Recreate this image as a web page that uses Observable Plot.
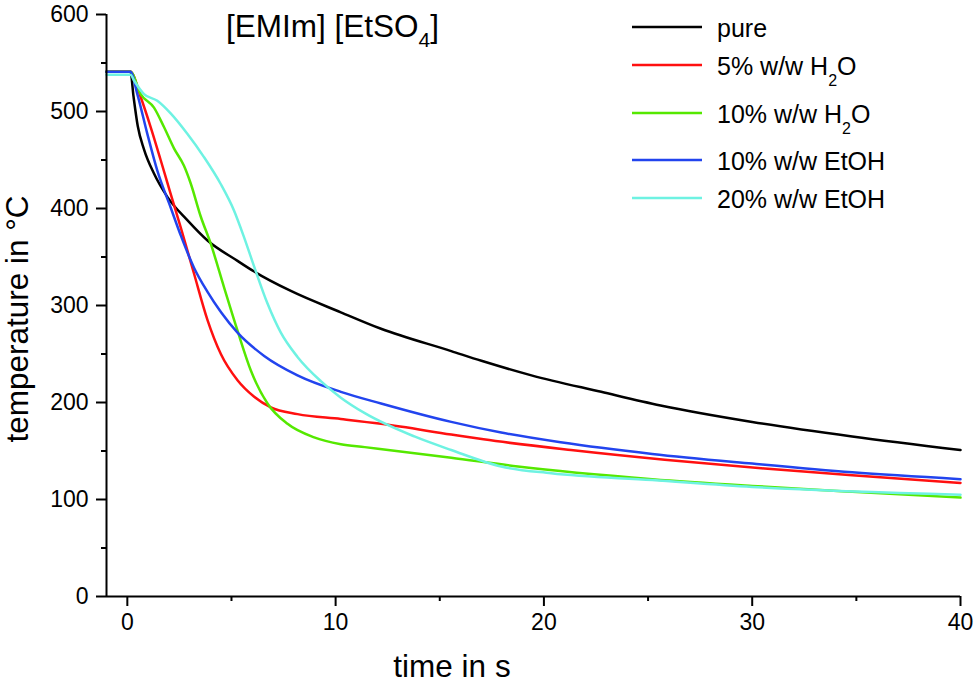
<!DOCTYPE html>
<html><head><meta charset="utf-8">
<script src="https://cdn.jsdelivr.net/npm/d3@7"></script>
<script src="https://cdn.jsdelivr.net/npm/@observablehq/plot@0.6"></script>
<style>body{margin:0;background:#fff}</style>
</head><body><div id="chart"></div>
<script>
const FONT = "'Liberation Sans', Arial, Helvetica, sans-serif";

// ticks
const xMajorTicks = [0, 10, 20, 30, 40];
const xMinorTicks = [5, 15, 25, 35];
const yMajorTicks = [0, 100, 200, 300, 400, 500, 600];
const yMinorTicks = [50, 150, 250, 350, 450, 550];

// series data (time in s, temperature in °C)
const pureTime = [-1, 0.15, 0.3, 0.5, 0.8, 1.28, 1.92, 2.88, 3.85, 5.29, 6.09, 7.85, 10.25, 12.18, 15.55, 17.0, 19.4, 22.75, 25.6, 30.0, 34.8, 40];
const pureTemp = [541, 541, 515, 485, 461, 436, 412, 388, 367, 346, 335, 315, 293, 276, 253, 243, 228, 211, 197, 180, 165, 151];

const h2o5Time = [-1, 0.15, 0.64, 1.12, 1.6, 2.08, 2.57, 3.2, 3.85, 4.49, 5.29, 6.09, 6.89, 8.17, 10.25, 12.18, 15.55, 17.1, 21.3, 25.8, 30.6, 34.8, 40];
const h2o5Temp = [541, 541, 515, 484, 450, 415, 380, 333, 285, 250, 223, 206, 195, 188, 183, 178, 167, 162, 151, 141, 132, 125, 117];

const h2o10Time = [-1, 0.15, 0.64, 1.28, 1.76, 2.24, 2.72, 3.04, 3.52, 4.0, 4.64, 5.29, 5.93, 6.73, 7.69, 8.97, 10.25, 11.4, 15.55, 18.75, 25.2, 30.0, 34.8, 40];
const h2o10Temp = [541, 541, 518, 504, 484, 462, 444, 426, 392, 364, 319, 274, 233, 199, 178, 164, 157, 154, 143, 134, 121, 114, 108, 102];

const etoh10Time = [-1, 0.15, 0.48, 0.96, 1.44, 2.08, 2.57, 3.2, 3.85, 4.5, 5.29, 6.57, 8.17, 10.25, 12.18, 15.55, 17.95, 20.8, 25.2, 30.0, 34.8, 40];
const etoh10Temp = [541, 541, 518, 477, 439, 401, 372, 339, 314, 293, 272, 248, 228, 211, 199, 180, 169, 159, 147, 137, 128, 121];

const etoh20Time = [-1, 0.15, 0.32, 0.8, 1.44, 2.08, 2.88, 3.68, 4.49, 5.12, 5.61, 6.09, 6.73, 7.37, 8.17, 9.29, 10.25, 11.4, 13.78, 15.55, 17.95, 20.35, 25.2, 30.0, 40];
const etoh20Temp = [538, 538, 532, 518, 511, 498, 477, 453, 425, 398, 370, 340, 302, 272, 247, 222, 205, 189, 165, 151, 134, 127, 120, 113, 105];

const seriesNames = ["pure", "5% w/w H2O", "10% w/w H2O", "10% w/w EtOH", "20% w/w EtOH"];
const seriesColors = ["#000000", "#ff1010", "#55e800", "#2244ee", "#6ef2e2"];
// legend label parts: [text, subscript, text]
const legendParts = [["pure"], ["5% w/w H", "2", "O"], ["10% w/w H", "2", "O"], ["10% w/w EtOH"], ["20% w/w EtOH"]];
const seriesTimes = [pureTime, h2o5Time, h2o10Time, etoh10Time, etoh20Time];
const seriesTemps = [pureTemp, h2o5Temp, h2o10Temp, etoh10Temp, etoh20Temp];

const rows = seriesNames.flatMap((name, k) =>
  seriesTimes[k].map((t, i) => ({series: name, t, T: seriesTemps[k][i]})));

const xDomain = [-1, 40];
const yDomain = [0, 600];

const plot = Plot.plot({
  width: 976, height: 684,
  marginLeft: 106, marginRight: 16, marginTop: 14, marginBottom: 88,
  style: {fontFamily: FONT, background: "#fff", color: "#000"},
  x: {domain: xDomain},
  y: {domain: yDomain},
  color: {domain: seriesNames, range: seriesColors},
  marks: [
    Plot.line(rows, {x: "t", y: "T", z: "series", stroke: "series", strokeWidth: 2.5, curve: "monotone-x"}),
    Plot.ruleY([yDomain[0]], {strokeWidth: 2}),
    Plot.ruleX([xDomain[0]], {strokeWidth: 2}),
    Plot.axisX({ticks: xMajorTicks, tickSize: 10, tickPadding: 7, fontSize: 23, strokeWidth: 2, label: null, tickFormat: d => String(d)}),
    Plot.axisX({ticks: xMinorTicks, tickSize: 5, strokeWidth: 2, label: null, tickFormat: () => ""}),
    Plot.axisY({ticks: yMajorTicks, tickSize: 10, tickPadding: 8, fontSize: 23, strokeWidth: 2, label: null, tickFormat: d => String(d)}),
    Plot.axisY({ticks: yMinorTicks, tickSize: 5, strokeWidth: 2, label: null, tickFormat: () => ""})
  ]
});
document.getElementById("chart").appendChild(plot);

const svg = d3.select(plot);

// title
const title = svg.append("text").attr("x", 226).attr("y", 37).attr("text-anchor", "start")
  .attr("font-family", FONT).attr("font-size", 31.5).attr("fill", "#000");
title.append("tspan").text("[EMIm] [EtSO");
title.append("tspan").attr("font-size", 21).attr("dy", 10).text("4");
title.append("tspan").attr("dy", -10).text("]");

// axis titles
svg.append("text").attr("x", 452).attr("y", 677).attr("text-anchor", "middle")
  .attr("font-family", FONT).attr("font-size", 31.5).attr("fill", "#000").text("time in s");
svg.append("text").attr("transform", "translate(28,319) rotate(-90)").attr("text-anchor", "middle")
  .attr("font-family", FONT).attr("font-size", 31.5).attr("fill", "#000").text("temperature in °C");

// legend
const legendY = [27, 65, 113, 160, 198];
legendParts.forEach((parts, k) => {
  const y = legendY[k];
  svg.append("line").attr("x1", 632).attr("x2", 702).attr("y1", y).attr("y2", y)
    .attr("stroke", seriesColors[k]).attr("stroke-width", 2.5);
  const t = svg.append("text").attr("x", 717).attr("y", y + 10).attr("text-anchor", "start")
    .attr("font-family", FONT).attr("font-size", 25).attr("fill", "#000");
  t.append("tspan").text(parts[0]);
  if (parts.length > 1) {
    t.append("tspan").attr("font-size", 16).attr("dy", 11).text(parts[1]);
    t.append("tspan").attr("dy", -11).text(parts[2]);
  }
});
</script>
</body></html>
